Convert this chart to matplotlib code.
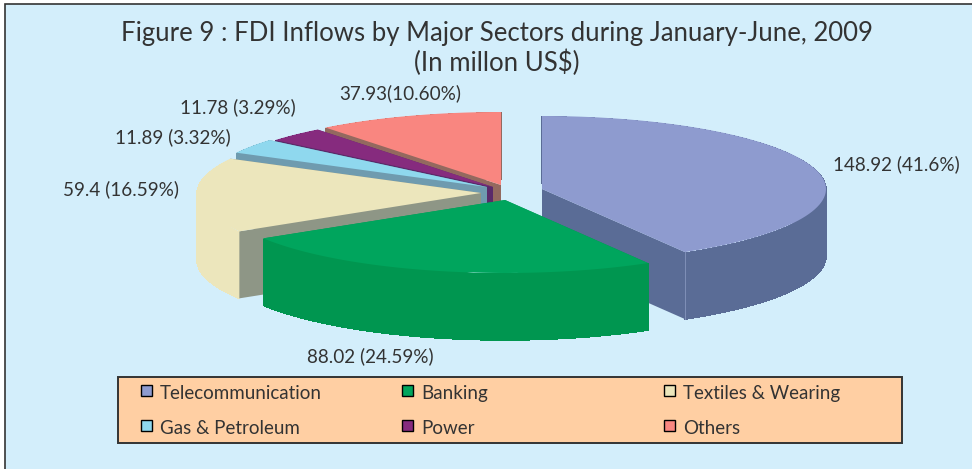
import numpy as np
import matplotlib
matplotlib.use("Agg")
import matplotlib.pyplot as plt
from matplotlib.collections import PolyCollection
from matplotlib.patches import Polygon, Rectangle

plt.rcParams["font.family"] = ["Lato", "DejaVu Sans"]

sectors = ["Telecommunication", "Banking", "Textiles & Wearing",
           "Gas & Petroleum", "Power", "Others"]
values = [148.92, 88.02, 59.4, 11.89, 11.78, 37.93]
value_labels = ["148.92 (41.6%)", "88.02 (24.59%)", "59.4 (16.59%)",
                "11.89 (3.32%)", "11.78 (3.29%)", "37.93(10.60%)"]

top_colors = ["#8E9BCF", "#00A55D", "#ECE6BC", "#8FD8EE", "#862B7E", "#F98680"]
side_colors = ["#5A6C96", "#009650", "#ECE6BC", "#6F9BAF", "#5A2A6A", "#93695F"]
face_colors = ["#5A6C96", "#009650", "#8E9686", "#6F9BAF", "#5A2A6A", "#93695F"]

# apex of each exploded slice, in pixels
centers = [(542, 189), (505, 200), (481, 193), (487, 187), (493, 187), (501, 185)]
rx, ry, depth = 284, 73, 67

label_pos = [(896, 164), (370, 356), (121, 189), (173, 137), (238, 107), (400, 93)]

fig = plt.figure(figsize=(9.72, 4.69), dpi=100)
ax = fig.add_axes([0, 0, 1, 1])
ax.set_xlim(0, 972)
ax.set_ylim(469, 0)
ax.axis("off")

ax.add_patch(Rectangle((5, 4), 970, 470, facecolor="#D3EEFB", edgecolor="#333333", lw=1.2))

fractions = np.array(values) / sum(values)
ends = 90 - 360 * np.cumsum(fractions)
starts = np.concatenate([[90], ends[:-1]])


def arc(cx, cy, a0, a1, dy=0):
    t = np.radians(np.linspace(a0, a1, 80))
    return np.column_stack([cx + rx * np.cos(t), cy - ry * np.sin(t) + dy])


# back slices first so the front ones cover them
for i in [5, 4, 3, 2, 0, 1]:
    cx, cy = centers[i]
    # side strips start a little below the rim so they do not peek out behind the top face
    top = arc(cx, cy, starts[i], ends[i], 1)
    bottom = arc(cx, cy, starts[i], ends[i], depth)
    strips = [[top[k], top[k + 1], bottom[k + 1], bottom[k]] for k in range(len(top) - 1)]
    ax.add_collection(PolyCollection(strips, facecolors=side_colors[i], edgecolors=side_colors[i],
                                     linewidths=0.4, antialiaseds=False))
    rim = arc(cx, cy, starts[i], ends[i])
    for edge in (rim[0], rim[-1]):
        quad = [(cx, cy), edge, (edge[0], edge[1] + depth), (cx, cy + depth)]
        ax.add_patch(Polygon(quad, facecolor=face_colors[i], lw=0))
    ax.add_patch(Polygon(np.vstack([[(cx, cy)], rim]), facecolor=top_colors[i], lw=0))
    if i == 0:
        ax.plot([rim[-1][0]] * 2, [rim[-1][1], rim[-1][1] + depth], color="#8090B8", lw=0.7)

ax.text(497, 33.5, "Figure 9 : FDI Inflows by Major Sectors during January-June, 2009",
        ha="center", va="center", fontsize=18.5, color="#333333")
ax.text(497, 63, "(In millon US$)", ha="center", va="center", fontsize=18.5, color="#333333")

for (x, y), label in zip(label_pos, value_labels):
    ax.text(x, y, label, ha="center", va="center", fontsize=13.6, color="#333333")

# legend box
ax.add_patch(Rectangle((118, 377), 784, 66, facecolor="#FFCFA3", edgecolor="#333333", lw=1.4))
col_x = [141, 402, 664]
row_y = [385, 420]
for i, name in enumerate(sectors):
    col, row = i % 3, i // 3
    ax.add_patch(Rectangle((col_x[col], row_y[row]), 11, 11, facecolor=top_colors[i],
                           edgecolor="black", lw=1))
    ax.text(col_x[col] + 19, row_y[row] + 8.5, name, ha="left", va="center",
            fontsize=13.5, color="#333333")

fig.savefig("out.png", dpi=100)
